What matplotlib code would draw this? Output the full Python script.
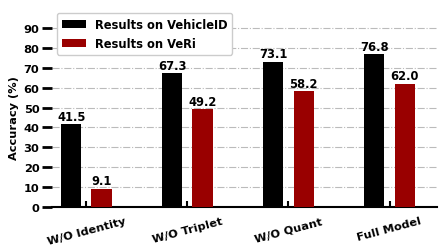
import matplotlib
matplotlib.use("Agg")
import matplotlib.pyplot as plt
import numpy as np

categories = ["W/O Identity", "W/O Triplet", "W/O Quant", "Full Model"]
vehicleid = [41.5, 67.3, 73.1, 76.8]
veri = [9.1, 49.2, 58.2, 62.0]
yticks = [0, 10, 20, 30, 40, 50, 60, 70, 80, 90]

plt.rcParams['font.family'] = ['DejaVu Sans']
plt.rcParams['font.weight'] = 'bold'

fig = plt.figure(figsize=(4.43, 2.53), dpi=100)
top_px, bot_px = 28, 208
ax = fig.add_axes([52/443, 1 - bot_px/253, (437-52)/443, (bot_px-top_px)/253])

x = np.arange(len(categories))
w = 0.2
off = 0.15
b1 = ax.bar(x - off, vehicleid, w, color='black', label='Results on VehicleID', zorder=3)
b2 = ax.bar(x + off, veri, w, color='#990000', label='Results on VeRi', zorder=3)

for rects, vals in ((b1, vehicleid), (b2, veri)):
    for r, v in zip(rects, vals):
        ax.text(r.get_x() + r.get_width()/2, v + 0.8, f"{v:.1f}", ha='center', va='bottom',
                fontsize=8.3, fontweight='bold', zorder=4, clip_on=False)

ax.set_xlim(-0.34, 3.47)
ax.set_ylim(0, 90.5)
ax.set_yticks(yticks)
ax.set_yticklabels([str(t) for t in yticks], fontsize=8.2, fontweight='bold')
ax.set_xticks(x)
ax.set_xticklabels(categories, rotation=15, fontsize=8.2, fontweight='bold')
ax.tick_params(axis='x', direction='in', length=4, width=1.5, pad=6)
ax.tick_params(axis='y', direction='out', length=7, width=2, pad=2)
ax.set_ylabel("Accuracy (%)", fontsize=8.2, fontweight='bold', labelpad=3)

for s in ('top', 'right', 'left'):
    ax.spines[s].set_visible(False)
ax.spines['bottom'].set_linewidth(1.5)
ax.yaxis.grid(True, linestyle='-.', color='#bbbbbb', linewidth=0.8, zorder=0)
ax.set_axisbelow(True)

leg = ax.legend(loc='upper left', bbox_to_anchor=(5/385, (bot_px-14)/(bot_px-top_px)), borderaxespad=0,
                prop={'weight': 'bold', 'size': 8.3},
                handlelength=2.1, labelspacing=0.55, framealpha=1)

fig.savefig("out.png", dpi=100)
